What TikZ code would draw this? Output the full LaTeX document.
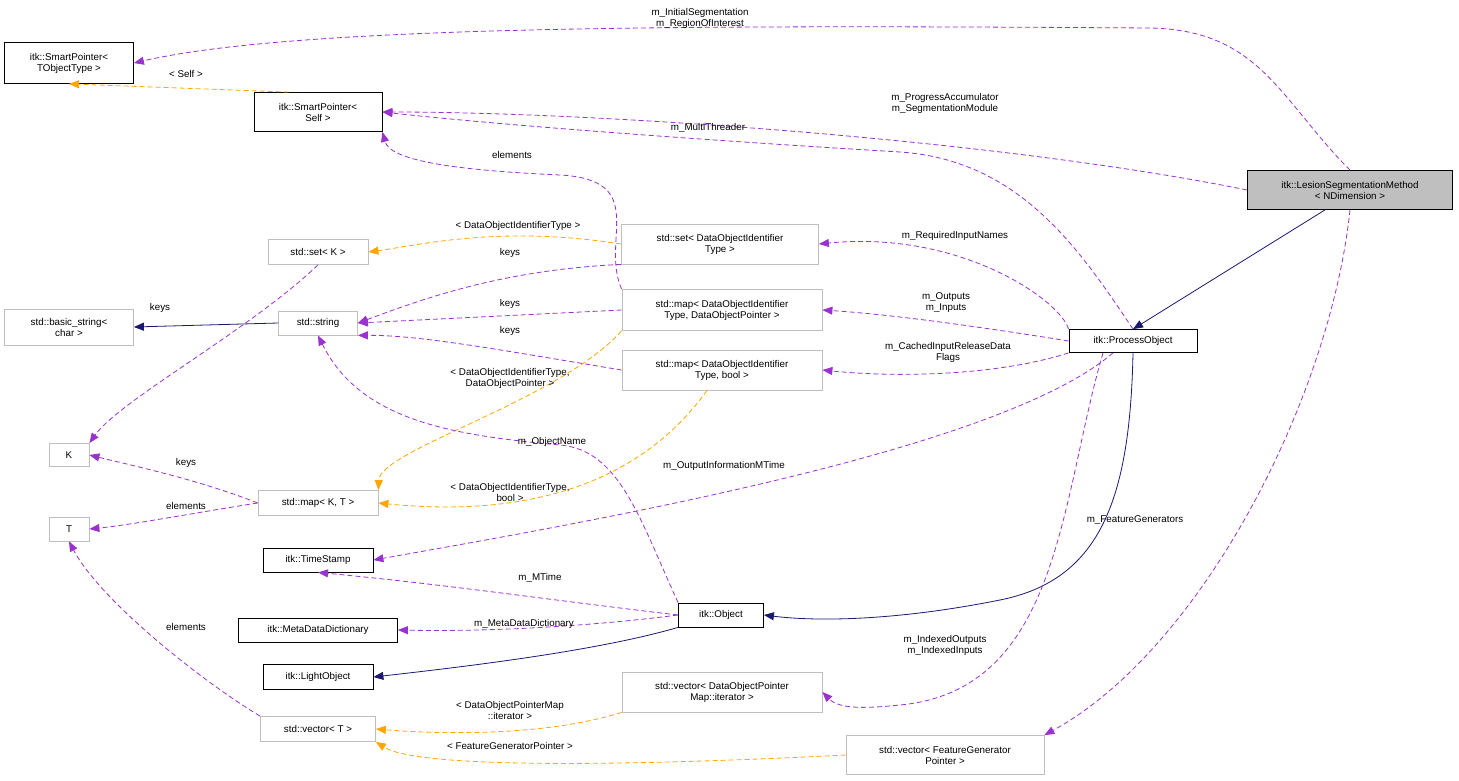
\documentclass[tikz,border=0pt]{standalone}
\usepackage{fontspec}
\setmainfont{Liberation Sans}
\usetikzlibrary{arrows.meta}
\definecolor{dpurple}{HTML}{9A32CD}
\definecolor{dorange}{HTML}{FFA500}
\definecolor{dnavy}{HTML}{191970}
\definecolor{dgray}{HTML}{BFBFBF}
\tikzset{
  box/.style={draw=black, fill=white, align=center, inner sep=2pt, line width=0.8pt, font=\fontsize{9.8}{11}\selectfont},
  gbox/.style={box, draw=dgray},
  mem/.style={dpurple, line width=0.8pt, dash pattern=on 5pt off 3pt, -{Triangle[length=10pt,width=8pt]}},
  tpl/.style={mem, dorange},
  inh/.style={dnavy, line width=0.8pt, -{Triangle[length=10pt,width=8pt]}},
  lbl/.style={black, align=center, font=\fontsize{9.8}{11}\selectfont}
}
\begin{document}
\begin{tikzpicture}[x=1pt,y=-1pt]
\useasboundingbox (0,0) rectangle (1459,781);
% nodes
\node[box, minimum width=129, minimum height=41] (spt) at (69,63) {itk::SmartPointer\textless\\TObjectType \textgreater};
\node[box, minimum width=128, minimum height=39] (sps) at (318,112) {itk::SmartPointer\textless\\Self \textgreater};
\node[box, fill=dgray, minimum width=205, minimum height=39] (lsm) at (1350,190) {itk::LesionSegmentationMethod\\\textless{} NDimension \textgreater};
\node[gbox, minimum width=197, minimum height=40] (setdoi) at (720,244) {std::set\textless{} DataObjectIdentifier\\Type \textgreater};
\node[gbox, minimum width=100, minimum height=25] (setk) at (318,252) {std::set\textless{} K \textgreater};
\node[gbox, minimum width=129, minimum height=36] (bstr) at (69,327) {std::basic\_string\textless\\char \textgreater};
\node[gbox, minimum width=79, minimum height=24] (str) at (318,323) {std::string};
\node[gbox, minimum width=200, minimum height=41] (mapdop) at (722,310) {std::map\textless{} DataObjectIdentifier\\Type, DataObjectPointer \textgreater};
\node[gbox, minimum width=200, minimum height=40] (mapbool) at (722,370) {std::map\textless{} DataObjectIdentifier\\Type, bool \textgreater};
\node[box, minimum width=128, minimum height=23] (po) at (1133,341) {itk::ProcessObject};
\node[gbox, minimum width=40, minimum height=23] (k) at (69,455) {K};
\node[gbox, minimum width=120, minimum height=25] (mapkt) at (318,503) {std::map\textless{} K, T \textgreater};
\node[gbox, minimum width=40, minimum height=24] (t) at (69,529) {T};
\node[box, minimum width=110, minimum height=24] (ts) at (318,560) {itk::TimeStamp};
\node[box, minimum width=159, minimum height=24] (mdd) at (318,630) {itk::MetaDataDictionary};
\node[box, minimum width=85, minimum height=24] (obj) at (721,615) {itk::Object};
\node[box, minimum width=110, minimum height=25] (lo) at (318,677) {itk::LightObject};
\node[gbox, minimum width=200, minimum height=40] (vecdop) at (722,692) {std::vector\textless{} DataObjectPointer\\Map::iterator \textgreater};
\node[gbox, minimum width=115, minimum height=25] (vect) at (318,729) {std::vector\textless{} T \textgreater};
\node[gbox, minimum width=198, minimum height=39] (vecfg) at (945,755) {std::vector\textless{} FeatureGenerator\\Pointer \textgreater};
% connectors
\draw[mem] (lsm.north) .. controls (1280,100) and (1260,30) .. (1150,28) .. controls (700,25) and (300,25) .. (spt.east);
\node[lbl] at (700,18) {m\_InitialSegmentation\\m\_RegionOfInterest};
\draw[mem] (lsm.west) .. controls (1000,140) and (600,112) .. (sps.east);
\node[lbl] at (945,103) {m\_ProgressAccumulator\\m\_SegmentationModule};
\draw[mem] (po.north) .. controls (1080,250) and (1020,160) .. (900,152) .. controls (700,140) and (500,125) .. (sps.east);
\node[lbl] at (708,128) {m\_MultiThreader};
\draw[tpl] (sps.north west) ++(35,0) -- (spt.south);
\node[lbl] at (186,74) {\textless{} Self \textgreater};
\draw[inh] (lsm.south) ++(-25,0) -- (po.north);
\draw[mem] (lsm.south) .. controls (1330,400) and (1200,650) .. (vecfg.north east);
\node[lbl] at (1135,520) {m\_FeatureGenerators};
\draw[mem] (mapdop.north west) .. controls (600,240) and (650,180) .. (560,175) .. controls (450,170) and (390,160) .. (sps.south east);
\node[lbl] at (512,155) {elements};
\draw[tpl] (setdoi.west) .. controls (500,225) and (420,245) .. (setk.east);
\node[lbl] at (518,226) {\textless{} DataObjectIdentifierType \textgreater};
\draw[mem] (setdoi.south west) .. controls (500,270) and (420,300) .. (str.east);
\node[lbl] at (510,253) {keys};
\draw[mem] (mapdop.west) -- (str.east);
\node[lbl] at (510,304) {keys};
\draw[mem] (mapbool.west) .. controls (500,350) and (420,335) .. (str.south east);
\node[lbl] at (510,331) {keys};
\draw[inh] (str.west) -- (bstr.east);
\draw[mem] (po.north west) .. controls (1060,300) and (960,230) .. (setdoi.east);
\node[lbl] at (955,236) {m\_RequiredInputNames};
\draw[mem] (po.west) .. controls (1000,330) and (900,315) .. (mapdop.east);
\node[lbl] at (946,303) {m\_Outputs\\m\_Inputs};
\draw[mem] (po.south west) .. controls (1000,375) and (900,378) .. (mapbool.east);
\node[lbl] at (948,352) {m\_CachedInputReleaseData\\Flags};
\draw[mem] (po.south) ++(-20,0) .. controls (1000,450) and (600,520) .. (ts.east);
\node[lbl] at (724,466) {m\_OutputInformationMTime};
\draw[inh] (po.south) .. controls (1130,500) and (1100,580) .. (1000,600) .. controls (900,620) and (820,622) .. (obj.east);
\draw[mem] (po.south) ++(-30,0) .. controls (1060,500) and (1060,690) .. (900,705) .. controls (870,708) and (840,710) .. (vecdop.east);
\node[lbl] at (945,645) {m\_IndexedOutputs\\m\_IndexedInputs};
\draw[mem] (setk.south) .. controls (250,330) and (120,400) .. (k.north east);
\node[lbl] at (160,308) {keys};
\draw[mem] (mapkt.west) .. controls (200,480) and (130,465) .. (k.east);
\node[lbl] at (186,463) {keys};
\draw[mem] (mapkt.west) .. controls (200,512) and (130,525) .. (t.east);
\node[lbl] at (186,506) {elements};
\draw[tpl] (mapdop.south west) .. controls (560,400) and (380,450) .. (mapkt.north east);
\node[lbl] at (510,378) {\textless{} DataObjectIdentifierType,\\DataObjectPointer \textgreater};
\draw[tpl] (mapbool.south) ++(-15,0) .. controls (650,470) and (550,520) .. (mapkt.east);
\node[lbl] at (510,492) {\textless{} DataObjectIdentifierType,\\bool \textgreater};
\draw[mem] (obj.north west) .. controls (640,520) and (620,450) .. (560,445) .. controls (450,435) and (360,420) .. (str.south);
\node[lbl] at (552,442) {m\_ObjectName};
\draw[mem] (obj.west) .. controls (550,600) and (450,585) .. (ts.south);
\node[lbl] at (540,578) {m\_MTime};
\draw[mem] (obj.west) .. controls (600,625) and (500,632) .. (mdd.east);
\node[lbl] at (524,624) {m\_MetaDataDictionary};
\draw[inh] (obj.south west) .. controls (600,650) and (480,665) .. (lo.east);
\draw[mem] (vect.north west) .. controls (200,680) and (100,600) .. (t.south);
\node[lbl] at (186,627) {elements};
\draw[tpl] (vecdop.south west) .. controls (550,735) and (450,735) .. (vect.east);
\node[lbl] at (510,710) {\textless{} DataObjectPointerMap\\::iterator \textgreater};
\draw[tpl] (vecfg.west) .. controls (650,765) and (420,770) .. (vect.south east);
\node[lbl] at (510,746) {\textless{} FeatureGeneratorPointer \textgreater};
\end{tikzpicture}
\end{document}
